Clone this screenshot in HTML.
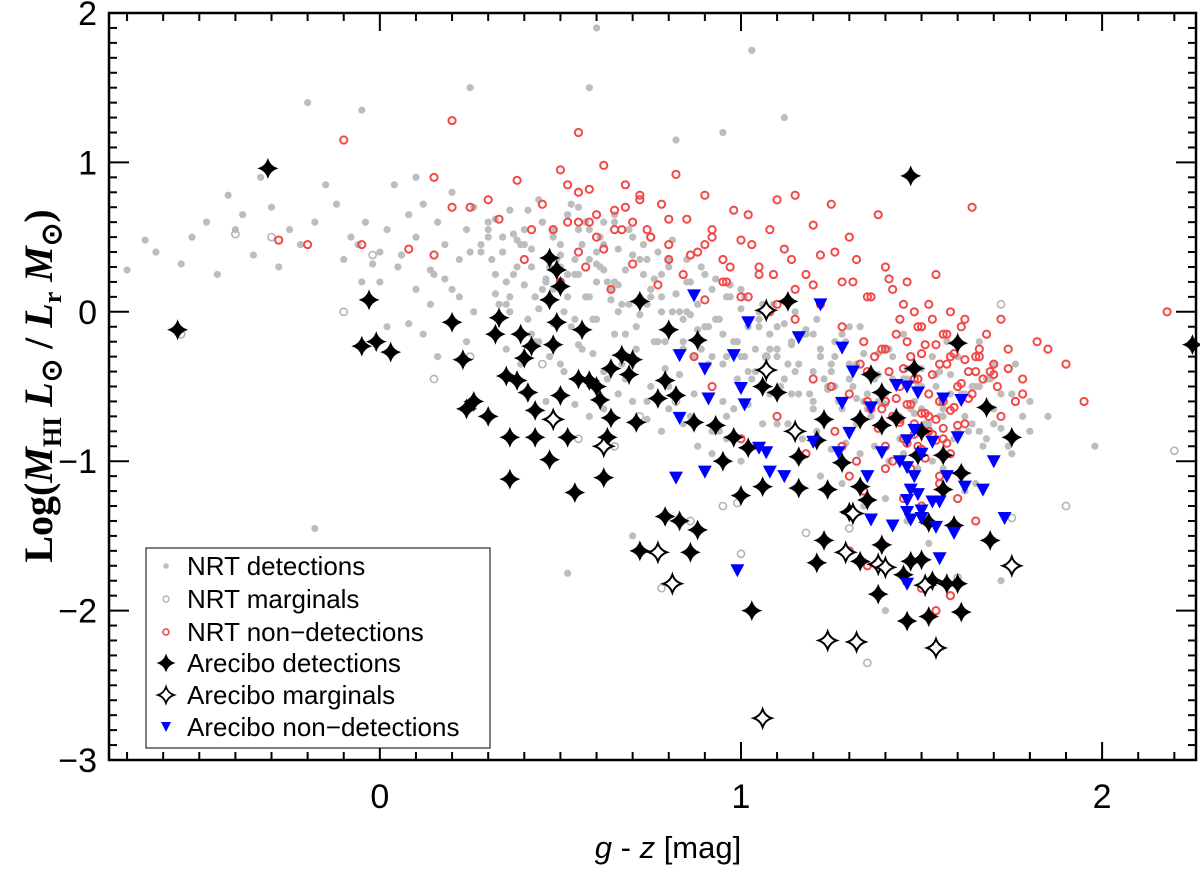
<!DOCTYPE html>
<html><head><meta charset="utf-8"><style>
html,body{margin:0;padding:0;background:#fff}
svg{display:block}
text{font-family:"Liberation Sans",sans-serif}
</style></head><body>
<svg id="chart" width="1200" height="869" viewBox="0 0 1200 869">
<g id="marks"></g>
<g id="axes"></g>
<text x="668" y="858" text-anchor="middle" font-size="31"><tspan font-style="italic">g</tspan> - <tspan font-style="italic">z</tspan> [mag]</text>
<text transform="translate(52,386) rotate(-90)" text-anchor="middle" font-size="40" font-weight="bold" style="font-family:'Liberation Serif',serif">Log(<tspan font-style="italic">M</tspan><tspan font-size="26" dy="9">HI</tspan><tspan dy="-9" font-style="italic"> L</tspan><tspan font-size="28" dy="9">⊙</tspan><tspan dy="-9"> / </tspan><tspan font-style="italic">L</tspan><tspan font-size="26" dy="9">r</tspan><tspan dy="-9" font-style="italic"> M</tspan><tspan font-size="28" dy="9">⊙</tspan><tspan dy="-9">)</tspan></text>
<g>
<rect x="146" y="548" width="344" height="200" fill="#fff" stroke="#000" stroke-width="1"/>
<g id="legend-items"></g>
</g>
</svg>
<script>
const xTicks=[0,1,2];
const yTicks=[2,1,0,-1,-2,-3];
const xTickLabels=["0","1","2"];
const yTickLabels=["2","1","0","\u22121","\u22122","\u22123"];
const nrtDetX=[-0.7,-0.65,-0.62,-0.55,-0.52,-0.48,-0.45,-0.42,-0.4,-0.38,-0.35,-0.33,-0.3,-0.28,-0.25,-0.22,-0.2,-0.18,-0.15,-0.12,-0.1,-0.08,-0.06,-0.04,-0.02,0,0.02,0.04,0.06,0.08,0.1,0.12,0.14,0.16,0.18,0.2,0.22,0.24,0.26,0.28,0.3,0.32,0.34,0.36,0.38,0.4,0.42,0.44,0.46,0.48,0.5,0.52,0.54,0.56,0.58,0.6,0.62,0.64,0.66,0.68,0.7,0.72,0.74,0.76,0.78,0.8,0.82,0.84,0.86,0.88,0.9,0.92,0.94,0.96,0.98,1.0,1.02,1.04,1.06,1.08,1.1,1.12,1.14,1.16,1.18,1.2,1.22,1.24,1.26,1.28,1.3,1.32,1.34,1.36,1.38,1.4,1.42,1.44,1.46,1.48,1.5,1.52,1.54,1.56,1.58,1.6,1.62,1.64,1.66,1.68,1.7,1.72,1.74,1.76,1.8,1.85,1.98,
0.31,0.35,0.39,0.43,0.47,0.51,0.55,0.59,0.63,0.67,0.71,0.75,0.79,0.83,0.87,0.91,0.95,0.99,1.03,1.07,1.11,1.15,1.19,1.23,1.27,1.31,1.35,1.39,1.43,1.47,1.51,1.55,1.59,1.63,1.67,
0.33,0.37,0.41,0.45,0.49,0.53,0.57,0.61,0.65,0.69,0.73,0.77,0.81,0.85,0.89,0.93,0.97,1.01,1.05,1.09,1.13,1.17,1.21,1.25,1.29,1.33,1.37,1.41,1.45,1.49,1.53,1.57,1.61,
0.15,0.2,0.25,0.3,0.35,0.4,0.45,0.5,0.55,0.6,0.65,0.7,0.75,0.8,0.85,0.9,0.95,1.0,1.05,1.1,1.15,1.2,1.25,1.3,1.35,1.4,1.45,1.5,1.55,1.6,1.65,1.7,1.75,
0.36,0.42,0.48,0.54,0.6,0.66,0.72,0.78,0.84,0.9,0.96,1.02,1.08,1.14,1.2,1.26,1.32,1.38,1.44,1.5,1.56,1.62,
0.44,0.5,0.56,0.62,0.68,0.74,0.8,0.86,0.92,0.98,1.04,1.1,1.16,1.22,1.28,1.34,1.4,1.46,1.52,
-0.18,-0.05,0.1,0.25,0.6,0.58,1.03,1.12,0.82,0.7,0.52,1.4,0.95,1.72,0.65,0.55,0.48,0.62,0.58,0.52];
const nrtDetY=[0.28,0.48,0.4,0.32,0.5,0.6,0.25,0.78,0.55,0.65,0.38,0.9,0.7,0.3,0.55,0.45,1.4,0.6,0.85,0.72,0.35,0.5,0.45,0.6,0.32,0.4,0.55,0.85,0.38,0.65,0.5,0.72,0.28,0.6,0.45,0.8,0.35,0.55,0.7,0.4,0.6,0.25,0.5,0.68,0.3,0.55,0.42,0.75,0.2,0.5,0.38,0.65,0.25,0.45,0.55,0.32,0.6,0.15,0.42,0.28,0.5,0.1,0.35,0.22,0.0,0.3,0.12,-0.05,0.2,0.05,-0.1,0.15,-0.05,0.1,-0.2,0.02,-0.1,-0.25,0.05,-0.15,-0.3,-0.08,-0.2,-0.35,-0.12,-0.4,-0.25,-0.5,-0.3,-0.15,-0.45,-0.35,-0.6,-0.4,-0.28,-0.55,-0.45,-0.7,-0.38,-0.6,-0.5,-0.75,-0.42,-0.65,-0.55,-0.3,-0.7,-0.5,-0.8,-0.45,-0.65,-0.55,-0.9,-0.35,-0.6,-0.7,-0.9,
0.35,0.2,0.45,0.1,0.3,0.0,0.25,-0.05,0.2,0.05,-0.1,0.15,-0.2,0.0,-0.3,-0.1,-0.35,-0.2,-0.45,-0.3,-0.5,-0.4,-0.55,-0.45,-0.6,-0.5,-0.65,-0.6,-0.7,-0.65,-0.75,-0.7,-0.85,-0.8,-0.9,
0.05,0.25,-0.05,0.15,0.35,-0.1,0.1,0.3,-0.15,0.05,0.25,-0.2,0.0,0.2,-0.25,-0.05,0.1,-0.3,-0.1,0.05,-0.35,-0.15,-0.05,-0.4,-0.2,-0.1,-0.45,-0.25,-0.15,-0.5,-0.3,-0.2,-0.55,
0.25,0.15,0.4,0.5,0.05,0.45,0.6,0.3,0.55,0.4,0.2,0.5,0.1,0.35,0.0,0.25,-0.15,0.15,-0.05,-0.25,0.0,-0.15,-0.35,-0.1,-0.55,-0.25,-0.45,-0.65,-0.4,-0.8,-0.5,-0.75,-0.95,
0.1,-0.15,0.15,-0.05,0.2,0.0,0.35,0.1,-0.2,-0.1,-0.3,-0.4,-0.25,-0.55,-0.65,-0.5,-0.75,-0.6,-0.85,-0.95,-1.05,-1.2,
-0.2,-0.35,-0.25,-0.4,-0.45,-0.6,-0.5,-0.7,-0.8,-0.65,-0.9,-0.75,-1.0,-1.1,-1.15,-1.3,-1.25,-1.4,-1.55,
-1.45,1.35,0.9,1.5,1.9,1.5,1.75,1.3,1.15,-1.5,-1.75,-2.0,1.2,-1.8,0.6,0.7,0.55,0.45,0.35,0.25];
const nrtDetX2=[0.3,0.34,0.38,0.42,0.46,0.5,0.54,0.58,0.62,0.66,0.7,0.74,0.78,0.82,0.86,0.32,0.36,0.4,0.44,0.48,0.52,0.56,0.6,0.64,0.68,0.72,0.76,0.8,0.84,0.88,0.92,0.35,0.39,0.43,0.47,0.51,0.55,0.59,0.63,0.67,0.71,0.75,0.79,0.83,0.87,0.91,0.95,0.99,0.28,0.32,0.37,0.41,0.45,0.53,0.57,0.61,0.65,0.69,0.73,0.77,0.81,0.85,0.89,0.93,0.97,1.01,1.05,
1.1,1.14,1.18,1.22,1.26,1.3,1.34,1.38,1.42,1.46,1.5,1.54,1.58,1.62,1.66,1.12,1.16,1.2,1.24,1.28,1.32,1.36,1.4,1.44,1.48,1.52,1.56,1.6,1.64,1.68,1.72,1.13,1.17,1.21,1.25,1.29,1.33,1.37,1.41,1.45,1.49,1.53,1.57,1.61,1.65,1.0,1.04,1.08,0.96,0.94,1.02,1.06,
0.0,0.05,0.1,0.14,0.18,0.22,0.26,-0.05,0.08,0.12,0.2,0.24,0.02,0.16,0.7,0.74,0.78,0.66,0.62,0.58,0.54,0.5,0.46,0.88,0.92,0.96,1.0,0.84,0.8,1.7,1.75,1.78,1.8,1.66,1.69];
const nrtDetY2=[0.55,0.4,0.48,0.3,0.22,0.45,0.35,0.1,0.28,0.18,0.38,0.05,0.25,0.12,-0.02,0.12,0.0,0.18,0.02,-0.08,0.1,-0.12,-0.05,0.08,-0.15,-0.02,-0.2,-0.1,-0.25,-0.12,-0.3,-0.25,-0.35,-0.2,-0.3,-0.4,-0.22,-0.28,-0.45,-0.35,-0.25,-0.5,-0.38,-0.42,-0.55,-0.35,-0.6,-0.45,0.45,0.62,0.52,0.68,0.6,0.72,0.6,0.5,0.65,0.55,0.45,0.4,0.48,0.35,0.3,0.22,0.18,0.1,0.0,
-0.1,-0.22,-0.15,-0.3,-0.2,-0.35,-0.28,-0.42,-0.3,-0.45,-0.38,-0.5,-0.42,-0.55,-0.5,-0.45,-0.55,-0.6,-0.52,-0.65,-0.58,-0.7,-0.62,-0.72,-0.68,-0.78,-0.7,-0.8,-0.75,-0.85,-0.78,-0.75,-0.85,-0.8,-0.92,-0.88,-0.95,-0.9,-1.0,-0.95,-1.05,-1.0,-1.1,-1.05,-1.15,-0.3,-0.4,-0.55,-0.7,-0.8,-0.62,-0.75,
0.2,0.3,0.15,0.05,0.22,0.1,0.0,0.2,-0.08,-0.15,-0.05,-0.2,-0.1,-0.3,-0.6,-0.72,-0.8,-0.55,-0.65,-0.7,-0.62,-0.55,-0.6,-0.9,-0.95,-0.85,-1.0,-0.75,-0.65,-0.35,-0.55,-0.7,-0.8,-0.2,-0.45];
const nrtMargX=[-0.4,-0.3,-0.1,-0.02,0.15,0.25,0.45,0.55,0.65,0.72,0.78,0.86,0.95,1.0,1.07,1.18,1.3,1.35,1.6,1.72,1.75,1.9,2.2,-0.55,0.82,0.99];
const nrtMargY=[0.52,0.5,0.0,0.38,-0.45,-0.3,-0.35,-0.85,-0.9,-0.7,-1.85,-1.4,-1.3,-1.62,-0.3,-1.48,-1.45,-2.35,-1.78,0.05,-1.38,-1.3,-0.93,-0.15,-0.6,-1.28];
const nrtNonX=[-0.28,-0.2,-0.1,-0.05,0.08,0.15,0.2,0.25,0.3,0.33,0.38,0.42,0.45,0.5,0.52,0.55,0.58,0.6,0.62,0.65,0.68,0.7,0.72,0.75,0.78,0.8,0.82,0.85,0.88,0.9,0.92,0.95,0.98,1.0,1.02,1.05,1.08,1.1,1.12,1.15,1.18,1.2,1.22,1.25,1.28,1.3,1.32,1.35,1.38,1.4,1.42,1.44,1.46,1.48,1.5,1.52,1.54,1.56,1.58,1.6,1.62,1.64,1.66,1.68,1.7,1.72,1.74,1.78,1.82,1.85,1.9,1.95,2.18,
0.4,0.48,0.55,0.62,0.68,0.74,0.8,0.86,0.92,0.97,1.03,1.09,1.14,1.2,1.26,1.31,1.36,1.41,1.45,1.49,1.53,1.57,1.61,1.65,1.69,
0.5,0.57,0.64,0.7,0.77,0.84,0.9,0.96,1.02,1.08,1.15,1.22,1.28,1.34,1.39,1.43,1.47,1.51,1.55,1.59,1.63,1.67,1.71,1.76,
1.2,1.25,1.3,1.35,1.4,1.44,1.48,1.52,1.56,1.6,1.64,1.68,1.72,1.36,1.42,1.46,1.5,1.54,1.58,1.62,1.38,1.44,1.48,1.52,1.56,1.6,1.4,1.46,1.5,1.54,1.58,1.42,1.47,1.51,1.55,
0.87,0.92,1.0,1.1,1.18,1.26,1.3,1.34,1.4,1.45,1.5,1.55,1.6,1.65,1.3,1.35,1.28,1.32,1.5,1.54,1.58,0.15,0.2,0.52,0.58,0.67,0.72,0.55,
1.33,1.37,1.41,1.45,1.49,1.53,1.57,1.61,1.65,1.35,1.39,1.43,1.47,1.51,1.55,1.59,1.63,1.44,1.48,1.52,1.56,1.4,1.46,1.5,1.54,1.58,1.62,1.66,1.7,1.74,1.78,1.45,1.49,1.53,1.57,0.95,1.0,1.05,1.1,1.15,0.6,0.65,0.55,0.75,0.8,0.9];
const nrtNonY=[0.48,0.45,1.15,0.45,0.42,0.38,1.28,0.7,0.75,0.62,0.88,0.55,0.72,0.95,0.6,1.2,0.82,0.5,0.98,0.68,0.85,0.6,0.78,0.5,0.72,0.45,0.92,0.62,0.4,0.78,0.55,0.35,0.68,0.48,0.65,0.3,0.55,0.75,0.42,0.78,0.25,0.58,0.38,0.72,0.2,0.5,0.35,0.1,0.65,0.3,0.15,-0.05,0.2,0.0,-0.1,0.05,0.25,-0.15,0.0,-0.2,-0.05,0.7,-0.3,-0.15,-0.35,-0.05,-0.25,-0.45,-0.2,-0.25,-0.35,-0.6,0.0,
0.35,0.55,0.6,0.42,0.7,0.55,0.62,0.38,0.5,0.3,0.45,0.25,0.35,0.18,0.4,0.2,0.1,0.22,0.05,-0.1,-0.05,-0.15,-0.1,-0.3,-0.4,
0.2,0.3,0.15,0.32,0.18,0.25,0.08,0.2,0.1,0.0,-0.05,0.05,-0.1,-0.2,-0.25,-0.15,-0.3,-0.22,-0.35,-0.28,-0.4,-0.45,-0.5,-0.6,
-0.45,-0.5,-0.55,-0.4,-0.6,-0.5,-0.45,-0.55,-0.6,-0.5,-0.55,-0.65,-0.7,-0.65,-0.7,-0.62,-0.68,-0.72,-0.66,-0.75,-0.78,-0.74,-0.82,-0.8,-0.85,-0.76,-0.9,-0.88,-0.92,-0.86,-0.95,-1.0,-1.05,-0.98,-1.1,
-0.3,-0.5,-0.85,-0.7,-0.95,-0.8,-1.1,-1.2,-1.05,-1.25,-1.3,-1.15,-1.25,-1.4,-1.6,-1.7,-0.9,-1.0,-1.85,-2.0,-1.9,0.9,0.7,0.85,0.6,0.55,0.75,0.4,
-0.35,-0.3,-0.4,-0.38,-0.45,-0.42,-0.35,-0.48,-0.4,-0.6,-0.65,-0.58,-0.62,-0.68,-0.6,-0.64,-0.58,-0.72,-0.75,-0.7,-0.78,-0.25,-0.2,-0.28,-0.22,-0.3,-0.32,-0.25,-0.42,-0.38,-0.55,-0.85,-0.9,-0.82,-0.88,0.2,0.1,0.25,0.05,0.15,0.65,0.55,0.8,0.5,0.35,0.45];
const areDetX=[-0.31,-0.56,-0.03,-0.05,-0.01,0.03,0.2,0.38,0.39,0.4,0.47,0.5,0.49,0.47,0.49,0.33,0.32,0.26,0.3,0.24,0.23,0.56,0.48,0.42,0.35,0.41,0.43,0.36,0.43,0.47,0.52,0.58,0.61,0.5,0.67,0.69,0.63,0.64,0.71,0.62,0.77,0.7,0.79,0.72,0.8,0.88,0.82,0.87,0.95,0.36,0.54,0.79,0.83,0.72,0.93,0.98,1.0,1.02,1.06,0.88,1.13,1.06,1.1,1.16,1.21,1.23,1.16,1.24,1.28,1.33,1.33,1.35,1.39,1.43,1.48,1.49,1.56,1.61,1.68,1.56,1.52,1.59,1.69,1.47,1.6,2.25,1.45,1.47,1.5,1.53,1.57,1.6,1.61,1.52,1.46,1.38,1.33,1.21,1.23,1.03,0.86,1.5,1.39,1.36,1.39,1.3,1.75,0.55,0.6,0.64];
const areDetY=[0.96,-0.12,0.08,-0.23,-0.2,-0.27,-0.07,-0.46,-0.15,-0.31,0.08,0.17,0.28,0.36,-0.07,-0.04,-0.15,-0.6,-0.7,-0.65,-0.32,-0.12,-0.22,-0.23,-0.43,-0.54,-0.66,-0.84,-0.84,-0.99,-0.84,-0.46,-0.59,-0.56,-0.29,-0.42,-0.84,-0.71,-0.74,-1.11,-0.58,-0.32,-0.46,0.07,-0.12,-0.19,-0.56,-0.74,-1.0,-1.12,-1.21,-1.37,-1.4,-1.6,-0.76,-0.84,-1.23,-0.91,-1.17,-1.46,0.07,-0.5,-0.54,-0.97,-0.86,-0.72,-1.18,-1.19,-1.01,-0.72,-1.17,-1.26,-0.76,-0.71,-0.38,-0.96,-0.96,-1.08,-0.64,-1.19,-1.41,-1.43,-1.53,0.91,-0.21,-0.22,-1.76,-1.67,-1.66,-1.8,-1.82,-1.82,-2.01,-2.04,-2.07,-1.89,-1.67,-1.68,-1.53,-2.0,-1.61,-0.8,-0.54,-0.42,-1.56,-1.34,-0.84,-0.45,-0.5,-0.38];
const areMargX=[1.07,1.07,1.15,0.48,0.62,0.77,0.81,1.31,1.29,1.38,1.4,1.75,1.24,1.32,1.54,1.06,1.51];
const areMargY=[0.01,-0.39,-0.8,-0.72,-0.9,-1.61,-1.82,-1.35,-1.61,-1.69,-1.71,-1.7,-2.2,-2.21,-2.25,-2.72,-1.83];
const areNonX=[1.22,1.02,1.16,0.98,0.9,1.0,0.91,1.01,1.28,1.31,1.43,1.46,1.49,1.56,1.61,1.28,1.36,1.3,1.2,1.27,1.39,1.48,1.46,1.53,1.6,1.05,1.07,0.9,1.08,1.12,1.44,1.46,1.48,1.5,1.57,1.7,1.35,1.62,1.67,1.47,1.49,1.46,1.53,1.55,1.5,1.46,1.47,1.5,1.36,1.42,1.54,1.59,1.73,1.55,1.46,0.99,0.83,0.83,0.82,0.87];
const areNonY=[0.05,-0.07,-0.17,-0.29,-0.38,-0.51,-0.58,-0.62,-0.24,-0.4,-0.49,-0.5,-0.54,-0.58,-0.59,-0.61,-0.64,-0.81,-0.87,-0.94,-0.94,-0.79,-0.86,-0.87,-0.84,-0.91,-0.94,-1.07,-1.07,-1.1,-1.0,-1.04,-1.1,-0.95,-1.1,-1.0,-1.1,-1.17,-1.19,-1.19,-1.22,-1.26,-1.27,-1.27,-1.33,-1.34,-1.39,-1.38,-1.39,-1.43,-1.44,-1.48,-1.38,-1.65,-1.82,-1.73,-0.29,-0.71,-1.11,0.11];

const NS='http://www.w3.org/2000/svg';
const L=109,R=1196,T=13,B=760;
const X0=-0.75,X1=2.26,Y0=-3,Y1=2;
function sx(v){return L+(v-X0)/(X1-X0)*(R-L);}
function sy(v){return B-(v-Y0)/(Y1-Y0)*(B-T);}
function mk(tag,attrs,parent){const e=document.createElementNS(NS,tag);for(const k in attrs)e.setAttribute(k,attrs[k]);parent.appendChild(e);return e;}
function starPath(cx,cy,s){const k=s*0.25;return `M${cx},${cy-s} Q${cx+k},${cy-k} ${cx+s},${cy} Q${cx+k},${cy+k} ${cx},${cy+s} Q${cx-k},${cy+k} ${cx-s},${cy} Q${cx-k},${cy-k} ${cx},${cy-s}Z`;}
const marks=document.getElementById('marks');
function drawDot(g,x,y){return mk('circle',{cx:x,cy:y,r:3.6,fill:'#bdbdbd'},g);}
function drawRing(g,x,y,c,w){return mk('circle',{cx:x,cy:y,r:3.6,fill:'none',stroke:c,'stroke-width':w},g);}
function drawStar(g,x,y,filled){return mk('path',{d:starPath(x,y,9),fill:filled?'#000':'#fff',stroke:'#000','stroke-width':filled?1:2},g);}
function drawTri(g,x,y){return mk('path',{d:`M${x-7},${y-6} L${x+7},${y-6} L${x},${y+7}Z`,fill:'#0000ff'},g);}

const gD=mk('g',{},marks);


for(let i=0;i<nrtDetX.length;i++){const e=drawDot(gD,sx(nrtDetX[i]),sy(nrtDetY[i]));

}
for(let i=0;i<nrtDetX2.length;i++){const e=drawDot(gD,sx(nrtDetX2[i]),sy(nrtDetY2[i]));

}
const gM=mk('g',{},marks);


for(let i=0;i<nrtMargX.length;i++){const e=drawRing(gM,sx(nrtMargX[i]),sy(nrtMargY[i]),'#b5b5b5',1.6);

}
const gN=mk('g',{},marks);


for(let i=0;i<nrtNonX.length;i++){const e=drawRing(gN,sx(nrtNonX[i]),sy(nrtNonY[i]),'#f24a4a',2);

}
const gA=mk('g',{},marks);


for(let i=0;i<areDetX.length;i++){const e=drawStar(gA,sx(areDetX[i]),sy(areDetY[i]),true);

}
const gAM=mk('g',{},marks);


for(let i=0;i<areMargX.length;i++){const e=drawStar(gAM,sx(areMargX[i]),sy(areMargY[i]),false);

}
const gAN=mk('g',{},marks);


for(let i=0;i<areNonX.length;i++){const e=drawTri(gAN,sx(areNonX[i]),sy(areNonY[i]));

}

const ax=document.getElementById('axes');
const frame=mk('rect',{x:L,y:T,width:R-L,height:B-T,fill:'none',stroke:'#000','stroke-width':2.5},ax);


for(let k=-7;k<=22;k++){const v=k/10;if(v<X0||v>X1)continue;const x=sx(v);const len=(k%10===0)?18:8;
mk('line',{x1:x,y1:B,x2:x,y2:B-len,stroke:'#000','stroke-width':2},ax);
mk('line',{x1:x,y1:T,x2:x,y2:T+len,stroke:'#000','stroke-width':2},ax);}
for(let k=-30;k<=20;k++){const v=k/10;const y=sy(v);const len=(k%10===0)?20:8;
mk('line',{x1:L,y1:y,x2:L+len,y2:y,stroke:'#000','stroke-width':2},ax);
mk('line',{x1:R,y1:y,x2:R-len,y2:y,stroke:'#000','stroke-width':2},ax);}
xTicks.forEach((v,i)=>{const t=mk('text',{x:sx(v),y:808,'text-anchor':'middle','font-size':34},ax);t.textContent=xTickLabels[i];

});
yTicks.forEach((v,i)=>{const t=mk('text',{x:97,y:sy(v)+12,'text-anchor':'end','font-size':34},ax);t.textContent=yTickLabels[i];

});

const legendLabels=["NRT detections","NRT marginals","NRT non\u2212detections","Arecibo detections","Arecibo marginals","Arecibo non\u2212detections"];
const legendY=[566,599,632,663,695,727];
const li=document.getElementById('legend-items');
legendLabels.forEach((lab,i)=>{const y=legendY[i];const g=mk('g',{},li);


const x=166;
if(i===0)mk('circle',{cx:x,cy:y,r:2.8,fill:'#bdbdbd'},g);else if(i===1)mk('circle',{cx:x,cy:y,r:3,fill:'none',stroke:'#b5b5b5','stroke-width':1.4},g);else if(i===2)mk('circle',{cx:x,cy:y,r:3,fill:'none',stroke:'#f24a4a','stroke-width':1.6},g);
else if(i===3)mk('path',{d:starPath(x,y,8),fill:'#000',stroke:'#000'},g);else if(i===4)mk('path',{d:starPath(x,y,8),fill:'#fff',stroke:'#000','stroke-width':1.8},g);
else mk('path',{d:`M${x-5},${y-5} L${x+5},${y-5} L${x},${y+5}Z`,fill:'#0000ff'},g);
const t=mk('text',{x:187,y:y+9,'font-size':26},g);t.textContent=lab;});
</script>
</body></html>
